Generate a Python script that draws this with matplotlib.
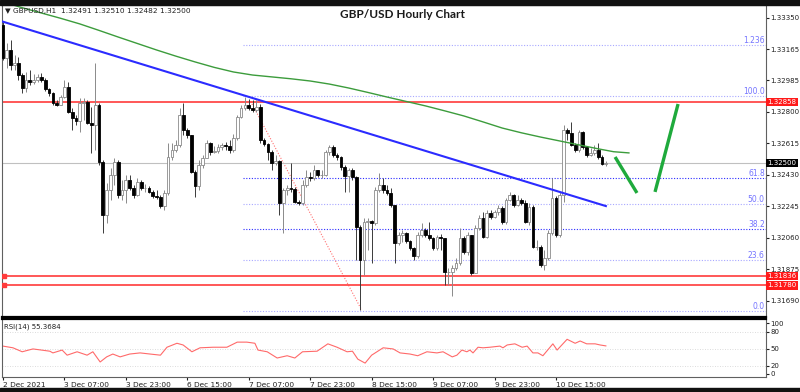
import matplotlib.pyplot as plt
import matplotlib.transforms as mtransforms
from matplotlib.patches import Rectangle
import numpy as np

# GBPUSD H1 candles (bar 0 = 2 Dec 2021 15:00)
first_open = 1.33309
close = [1.33115, 1.33162, 1.33074, 1.33086, 1.33015, 1.32939, 1.32986, 1.32974, 1.32986, 1.33004,
         1.32986, 1.32933, 1.32910, 1.32851, 1.32839, 1.32886, 1.32945, 1.32798, 1.32763, 1.32746,
         1.32851, 1.32857, 1.32734, 1.32722, 1.32839, 1.32505, 1.32194, 1.32340, 1.32429, 1.32505,
         1.32311, 1.32340, 1.32399, 1.32352, 1.32311, 1.32387, 1.32352, 1.32352, 1.32329, 1.32305,
         1.32299, 1.32246, 1.32323, 1.32534, 1.32575, 1.32604, 1.32781, 1.32693, 1.32663, 1.32446,
         1.32364, 1.32487, 1.32528, 1.32616, 1.32563, 1.32569, 1.32593, 1.32604, 1.32599, 1.32575,
         1.32646, 1.32769, 1.32822, 1.32839, 1.32822, 1.32810, 1.32828, 1.32634, 1.32610, 1.32563,
         1.32499, 1.32511, 1.32264, 1.32340, 1.32352, 1.32346, 1.32270, 1.32264, 1.32370, 1.32417,
         1.32411, 1.32458, 1.32429, 1.32429, 1.32563, 1.32593, 1.32546, 1.32534, 1.32475, 1.32423,
         1.32458, 1.32417, 1.32123, 1.31929, 1.32153, 1.32158, 1.32147, 1.32340, 1.32370, 1.32340,
         1.32323, 1.32252, 1.32029, 1.32076, 1.32088, 1.32041, 1.32000, 1.31953, 1.32076, 1.32106,
         1.32076, 1.32059, 1.32000, 1.32065, 1.32059, 1.31859, 1.31859, 1.31882, 1.31912, 1.32059,
         1.31976, 1.32076, 1.31853, 1.32117, 1.32176, 1.32065, 1.32205, 1.32182, 1.32211, 1.32235,
         1.32153, 1.32282, 1.32311, 1.32252, 1.32282, 1.32264, 1.32153, 1.32241, 1.32006, 1.32006,
         1.31900, 1.31941, 1.32088, 1.32293, 1.32076, 1.32311, 1.32693, 1.32675, 1.32604, 1.32575,
         1.32681, 1.32593, 1.32546, 1.32558, 1.32575, 1.32534, 1.32491, 1.32500]
high = [1.33327, 1.33203, 1.33221, 1.33133, 1.33121, 1.33027, 1.33033, 1.33045, 1.33021, 1.33021,
        1.33027, 1.32998, 1.32939, 1.32916, 1.32869, 1.32898, 1.32986, 1.32974, 1.32822, 1.32781,
        1.32880, 1.32880, 1.32869, 1.32828, 1.33086, 1.32851, 1.32516, 1.32381, 1.32470, 1.32528,
        1.32516, 1.32399, 1.32429, 1.32429, 1.32370, 1.32411, 1.32399, 1.32376, 1.32364, 1.32340,
        1.32340, 1.32311, 1.32340, 1.32616, 1.32616, 1.32634, 1.32822, 1.32851, 1.32704, 1.32663,
        1.32458, 1.32516, 1.32546, 1.32634, 1.32622, 1.32599, 1.32610, 1.32616, 1.32622, 1.32634,
        1.32669, 1.32781, 1.32839, 1.32886, 1.32875, 1.32869, 1.32869, 1.32845, 1.32646, 1.32616,
        1.32575, 1.32546, 1.32516, 1.32352, 1.32370, 1.32499, 1.32358, 1.32282, 1.32399, 1.32458,
        1.32446, 1.32487, 1.32458, 1.32458, 1.32575, 1.32604, 1.32604, 1.32558, 1.32540, 1.32487,
        1.32470, 1.32470, 1.32423, 1.32135, 1.32176, 1.32176, 1.32164, 1.32358, 1.32440, 1.32411,
        1.32370, 1.32352, 1.32252, 1.32094, 1.32106, 1.32094, 1.32047, 1.32006, 1.32094, 1.32147,
        1.32117, 1.32153, 1.32065, 1.32076, 1.32082, 1.32018, 1.31882, 1.31900, 1.31941, 1.32117,
        1.32070, 1.32094, 1.32076, 1.32135, 1.32194, 1.32211, 1.32223, 1.32223, 1.32223, 1.32252,
        1.32246, 1.32293, 1.32329, 1.32317, 1.32311, 1.32293, 1.32282, 1.32264, 1.32252, 1.32047,
        1.32018, 1.31988, 1.32106, 1.32411, 1.32305, 1.32329, 1.32722, 1.32704, 1.32740, 1.32616,
        1.32693, 1.32687, 1.32599, 1.32587, 1.32604, 1.32616, 1.32546, 1.32510]
low = [1.33103, 1.33057, 1.33045, 1.33045, 1.32986, 1.32910, 1.32916, 1.32957, 1.32963, 1.32974,
       1.32974, 1.32921, 1.32892, 1.32839, 1.32834, 1.32839, 1.32880, 1.32792, 1.32693, 1.32722,
       1.32681, 1.32751, 1.32728, 1.32558, 1.32575, 1.32487, 1.32088, 1.32147, 1.32282, 1.32370,
       1.32293, 1.32282, 1.32264, 1.32340, 1.32293, 1.32305, 1.32340, 1.32329, 1.32323, 1.32293,
       1.32288, 1.32235, 1.32223, 1.32311, 1.32516, 1.32563, 1.32593, 1.32663, 1.32646, 1.32440,
       1.32299, 1.32340, 1.32470, 1.32528, 1.32546, 1.32558, 1.32558, 1.32575, 1.32575, 1.32558,
       1.32563, 1.32634, 1.32763, 1.32810, 1.32810, 1.32798, 1.32798, 1.32616, 1.32599, 1.32516,
       1.32458, 1.32487, 1.32194, 1.32088, 1.32311, 1.32329, 1.32264, 1.32252, 1.32252, 1.32358,
       1.32393, 1.32399, 1.32417, 1.32411, 1.32423, 1.32546, 1.32534, 1.32516, 1.32458, 1.32329,
       1.32329, 1.32399, 1.31929, 1.31636, 1.31841, 1.31988, 1.31912, 1.32135, 1.32329, 1.32323,
       1.32311, 1.32241, 1.31912, 1.32018, 1.32035, 1.32029, 1.31988, 1.31929, 1.31941, 1.32065,
       1.32065, 1.32047, 1.31988, 1.31988, 1.31988, 1.31783, 1.31783, 1.31718, 1.31871, 1.31900,
       1.31965, 1.31959, 1.31841, 1.31853, 1.32106, 1.32059, 1.32059, 1.32170, 1.32176, 1.32194,
       1.32141, 1.32141, 1.32276, 1.32241, 1.32246, 1.32252, 1.32147, 1.32135, 1.32000, 1.31988,
       1.31888, 1.31871, 1.31929, 1.32076, 1.32065, 1.32065, 1.32270, 1.32634, 1.32599, 1.32563,
       1.32563, 1.32581, 1.32534, 1.32540, 1.32546, 1.32522, 1.32487, 1.32482]

# green moving average (bar index, price)
ma_x = [0, 5, 10, 15, 20, 25, 30, 35, 40, 45, 50, 55, 60, 65, 70, 75, 80, 85, 90, 95, 100,
        105, 110, 115, 120, 125, 130, 135, 140, 145, 150, 155, 159, 163]
ma_y = [1.33444, 1.33410, 1.33379, 1.33348, 1.33315, 1.33277, 1.33238, 1.33200, 1.33162,
        1.33126, 1.33092, 1.33060, 1.33033, 1.33015, 1.33004, 1.32993, 1.32980, 1.32962,
        1.32939, 1.32913, 1.32886, 1.32860, 1.32834, 1.32805, 1.32775, 1.32740, 1.32704,
        1.32676, 1.32651, 1.32628, 1.32605, 1.32582, 1.32565, 1.32558]

# RSI(14)
rsi_x = [0, 2.6, 5, 7.8, 12.2, 13, 15.4, 16.7, 19.3, 21.9, 23.4, 25.3, 27, 28.6, 30.5, 33, 35.7,
         38.3, 41, 42.7, 45.3, 46.9, 49.2, 51.3, 54.7, 58.3, 61, 63.5, 65.6, 66.4, 68.8, 71.4, 74,
         76, 78, 81.8, 84.6, 87, 89.6, 91, 92.4, 94.3, 96, 99, 101.6, 103.4, 106, 108, 110.4, 113,
         114.6, 117, 118.2, 119.5, 120.8, 121.6, 122.4, 123.7, 125, 126.8, 129.4, 130.2, 131.3,
         133.3, 135.2, 136.5, 138, 139.3, 140.6, 143.2, 144.3, 146.9, 149, 150.3, 152, 154.2,
         155.5, 157]
rsi_y = [55, 52, 45, 50, 46, 43, 48, 39, 45, 39, 45, 27, 36, 41, 36, 41, 43, 41, 39, 53, 60, 57,
         45, 52, 53, 53, 62, 62, 60, 48, 45, 34, 38, 34, 45, 46, 59, 53, 45, 46, 32, 25, 39, 52,
         50, 43, 41, 38, 45, 43, 45, 36, 39, 48, 45, 48, 43, 53, 52, 53, 55, 52, 57, 59, 53, 55,
         43, 43, 38, 59, 48, 67, 60, 64, 59, 59, 57, 55.37]

# drawings
trend_x = [-0.3, 157]
trend_y = [1.33330, 1.32246]
fib_line_x = [64.5, 93.4]
fib_line_y = [1.32860, 1.31636]
fib_low, fib_high = 1.31630, 1.32892
fib_levels = [0.0, 23.6, 38.2, 50.0, 61.8, 100.0, 123.6]
fib_names = ['0.0', '23.6', '38.2', '50.0', '61.8', '100.0', '1.236']
red_levels = [1.32858, 1.31836, 1.31780]
last_price = 1.32500
arrow1_x = [159.4, 165.1]
arrow1_y = [1.32534, 1.32323]
arrow2_x = [169.8, 175.8]
arrow2_y = [1.32329, 1.32845]

price_ticks = [1.33350, 1.33165, 1.32985, 1.32800, 1.32615, 1.32430, 1.32245, 1.32060, 1.31875, 1.31690]
time_ticks = [0, 16, 32, 48, 64, 80, 96, 112, 128, 144]
time_labels = ['2 Dec 2021', '3 Dec 07:00', '3 Dec 23:00', '6 Dec 15:00', '7 Dec 07:00',
               '7 Dec 23:00', '8 Dec 15:00', '9 Dec 07:00', '9 Dec 23:00', '10 Dec 15:00']

fs = 5
fig = plt.figure(figsize=(8, 3.92), dpi=100)
ax = fig.add_axes([2/800, 1-317/392, 764/800, 312/392])
axr = fig.add_axes([2/800, 1-377/392, 764/800, 58/392], sharex=ax)
xmin, xmax = -0.26, 198.7

# fib levels
fib_start = 62.5
for lvl, name in zip(fib_levels, fib_names):
    p = fib_low + (fib_high - fib_low) * lvl / 100
    col = '#2b2bff' if lvl in (38.2, 61.8) else '#a8a8ff'
    ax.plot([fib_start, xmax], [p, p], ls=(0, (1, 1.5)), color=col, lw=0.8, zorder=1)
    ax.text(198.4, p, name, ha='right', va='bottom', color='#7474ff', fontsize=fs + 0.5, zorder=5)
ax.plot(fib_line_x, fib_line_y, ls=(0, (1, 1.5)), color='#ff7070', lw=0.8, zorder=1)

# horizontal levels
ax.axhline(last_price, color='#c0c0c0', lw=0.8, zorder=1)
for p in red_levels:
    ax.axhline(p, color='#ff3b3b', lw=1.2, zorder=2)
ax.plot([0.2, 0.2], red_levels[1:], 's', color='#ff3b3b', ms=2.2, zorder=3)

# candles
c = np.array(close)
o = np.r_[first_open, c[:-1]]
hi = np.maximum(np.array(high), np.maximum(o, c))
lo = np.minimum(np.array(low), np.minimum(o, c))
idx = np.arange(len(c))
up = c >= o
ax.vlines(idx[up], lo[up], hi[up], color='#8a8a8a', lw=0.7, zorder=3)
ax.vlines(idx[~up], lo[~up], hi[~up], color='#3a3a3a', lw=0.7, zorder=3)
ax.bar(idx[up], np.maximum(c - o, 0.00002)[up], bottom=o[up], width=0.72,
       color='white', edgecolor='#8a8a8a', lw=0.6, zorder=4)
ax.bar(idx[~up], np.maximum(o - c, 0.00002)[~up], bottom=c[~up], width=0.72,
       color='black', edgecolor='black', lw=0.6, zorder=4)

# trend line, MA and projection
ax.plot(trend_x, trend_y, color='#2b2bff', lw=1.5, zorder=5)
ax.plot(ma_x, ma_y, color='#3c9c3c', lw=1.0, zorder=5)
ax.plot(arrow1_x, arrow1_y, color='#1faa3c', lw=2.4, solid_capstyle='butt', zorder=6)
ax.plot(arrow2_x, arrow2_y, color='#1faa3c', lw=2.4, solid_capstyle='butt', zorder=6)

ax.set_xlim(xmin, xmax)
ax.set_ylim(1.31595, 1.33426)
ax.yaxis.tick_right()
ax.set_yticks(price_ticks)
ax.set_yticklabels(['%.5f' % t for t in price_ticks])
ax.tick_params(axis='y', labelsize=fs, length=2, pad=1, colors='#202020')
ax.tick_params(axis='x', bottom=False, labelbottom=False)

# value boxes on the price scale
tr = mtransforms.blended_transform_factory(ax.transAxes, ax.transData)
for p in red_levels:
    ax.text(1.002, p, '%.5f' % p, transform=tr, ha='left', va='center', fontsize=fs,
            color='white', bbox=dict(facecolor='#ff1a1a', edgecolor='none', pad=0.8), zorder=10)
ax.text(1.002, last_price, '%.5f' % last_price, transform=tr, ha='left', va='center', fontsize=fs,
        color='white', bbox=dict(facecolor='black', edgecolor='none', pad=0.8), zorder=10)

# RSI panel
for lvl in (80, 50, 20):
    axr.axhline(lvl, color='#d0d0d0', lw=0.6, ls=(0, (1, 2)))
axr.plot(rsi_x, rsi_y, color='#ff6a6a', lw=0.8)
axr.set_ylim(0.5, 102.8)
axr.yaxis.tick_right()
axr.set_yticks([6, 20, 50, 80, 95])
axr.set_yticklabels(['0', '20', '50', '80', '100'])
axr.tick_params(axis='y', labelsize=fs, length=2, pad=1, colors='#202020')
axr.set_xticks(time_ticks)
axr.set_xticklabels(time_labels, ha='left')
axr.tick_params(axis='x', labelsize=fs + 0.3, length=2, pad=1.5, colors='#202020')
axr.text(0.002, 0.92, 'RSI(14) 55.3684', transform=axr.transAxes, fontsize=fs, va='top', color='#202020')

for a in (ax, axr):
    for s in a.spines.values():
        s.set_color('#606060')
        s.set_linewidth(0.8)
ax.spines['bottom'].set_color('black')
ax.spines['bottom'].set_linewidth(1.6)
axr.spines['top'].set_color('black')
axr.spines['top'].set_linewidth(1.6)

# header texts
fig.text(5/800, 1-11/392, '\u25bc GBPUSD,H1  1.32491 1.32510 1.32482 1.32500', fontsize=fs + 0.3,
         va='center', color='#202020')
fig.text(402/800, 1-14/392, 'GBP/USD Hourly Chart', ha='center', va='center',
         fontsize=8.5, fontweight='bold', family='Lato', color='#1a1a1a')

# window frame bars
fig.add_artist(Rectangle((0, 1-5/392), 1, 5/392, transform=fig.transFigure, color='#111111'))
fig.add_artist(Rectangle((0, 0), 1, 4/392, transform=fig.transFigure, color='#111111'))

fig.savefig('out.png', dpi=100)
